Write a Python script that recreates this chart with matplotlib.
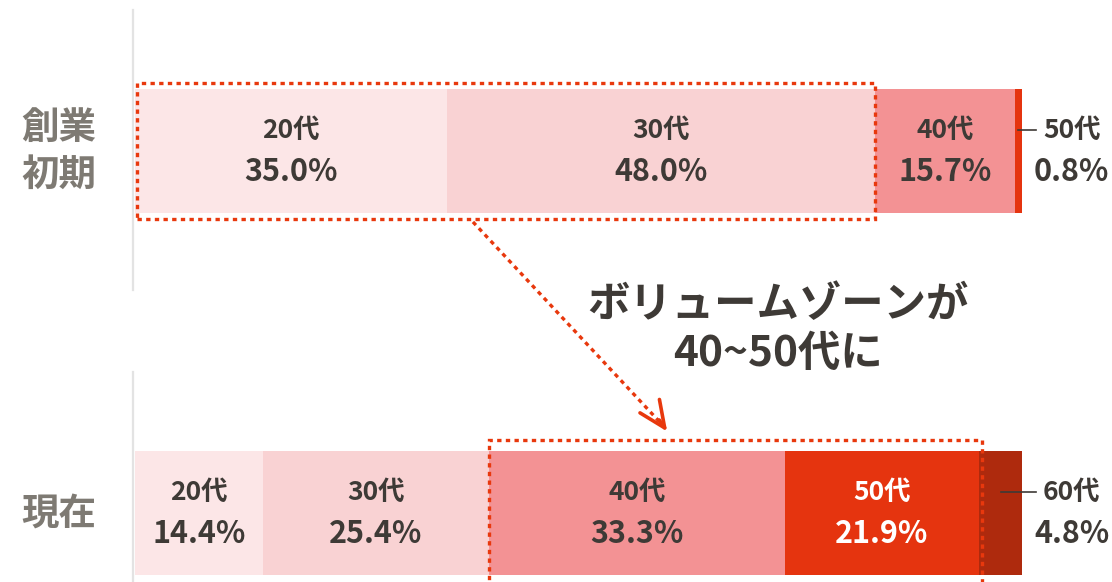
import numpy as np
import matplotlib.pyplot as plt
from matplotlib.patches import Rectangle

plt.rcParams['font.family'] = ['Noto Sans CJK JP', 'DejaVu Sans']

# data
rows = ["現在", "創業\n初期"]
ages = ["20代", "30代", "40代", "50代", "60代"]
now_pct = [14.4, 25.4, 33.3, 21.9, 4.8]
early_pct = [35.0, 48.0, 15.7, 0.8, 0.0]
colors = ["#FCE6E7", "#F9D2D3", "#F39294", "#E5340F", "#AE2A0D"]
callout = "ボリュームゾーンが\n40~50代に"

red = "#E8380D"
dark = "#3E3A36"
gray_lbl = "#7E7A73"

fig = plt.figure(figsize=(11.12, 5.82), dpi=100)
# x: 0..100 spans px 135..1022, y rows 0/1 at px 513/151 from top
ax = fig.add_axes([135 / 1112, 0, 887 / 1112, 1])
ax.set_xlim(0, 100)
ax.set_ylim(-0.1906, 1.417)
ax.axis("off")

bar_h = 0.345
series = [now_pct, early_pct]
for r, vals in enumerate(series):
    vals = np.array(vals)
    vals = vals / vals.sum() * 100  # stretch to full width
    left = np.concatenate([[0], np.cumsum(vals)[:-1]])
    for i, (l, w) in enumerate(zip(left, vals)):
        if w <= 0:
            continue
        ax.barh(r, w, left=l, height=bar_h, color=colors[i], lw=0)
    # labels
    for i, (l, w) in enumerate(zip(left, vals)):
        if w <= 0:
            continue
        raw = series[r][i]
        if w > 5:
            c = "white" if i == 3 else dark
            ax.text(l + w / 2, r + 0.058, ages[i], ha="center", va="center",
                    fontsize=19, fontweight="bold", color=c)
            ax.text(l + w / 2, r - 0.058, f"{raw:.1f}%", ha="center", va="center",
                    fontsize=22, fontweight="bold", color=c)
        else:
            ax.plot([l + w / 2, 101.6], [r + 0.058, r + 0.058], color=dark, lw=1.2,
                    clip_on=False)
            ax.text(105.6, r + 0.058, ages[i], ha="center", va="center",
                    fontsize=19, fontweight="bold", color=dark, clip_on=False)
            ax.text(105.6, r - 0.058, f"{raw:.1f}%", ha="center", va="center",
                    fontsize=22, fontweight="bold", color=dark, clip_on=False)

# row labels
for r, name in enumerate(rows):
    ax.text(-8.6, r, name, ha="center", va="center", fontsize=27,
            fontweight="bold", color=gray_lbl, linespacing=1.25, clip_on=False)

# thin gray guide lines on the left
ax.axvline(-0.25, ymin=0.502, ymax=0.983, color="#E3E3E3", lw=1.6, clip_on=False)
ax.axvline(-0.25, ymin=0.0, ymax=0.361, color="#E3E3E3", lw=1.6, clip_on=False)

# dotted highlight boxes
dot = (0, (1.3, 1.3))
e = np.array(early_pct) / sum(early_pct) * 100
n = np.array(now_pct) / sum(now_pct) * 100
pad = 0.02
ax.add_patch(Rectangle((0.2, 1 - bar_h / 2 - pad * 0.8), e[0] + e[1] - 0.2, bar_h + 2 * pad * 0.8,
                       fill=False, ec=red, lw=2.4, ls=dot, clip_on=False))
ax.add_patch(Rectangle((n[0] + n[1], 0 - bar_h / 2 - 0.1), n[2] + n[3] + 0.3, bar_h / 2 + 0.1 + bar_h / 2 + 0.028,
                       fill=False, ec=red, lw=2.4, ls=dot, clip_on=False))

# dotted arrow
x0, y0, x1, y1 = 38.1, 0.804, 59.4, 0.245
ax.plot([x0, x1], [y0, y1], color=red, lw=2.4, ls=dot)
ax.annotate("", xy=(x1 + 0.6, y1 - 0.02), xytext=(x1 - 0.3, y1 + 0.012),
            arrowprops=dict(arrowstyle="->,head_length=1.9,head_width=0.85",
                            color=red, lw=2.6, shrinkA=0, shrinkB=0))

ax.text(72.5, 0.507, callout, ha="center", va="center", fontsize=30.5,
        fontweight="bold", color=dark, linespacing=1.2)

fig.savefig("out.png", dpi=100)
